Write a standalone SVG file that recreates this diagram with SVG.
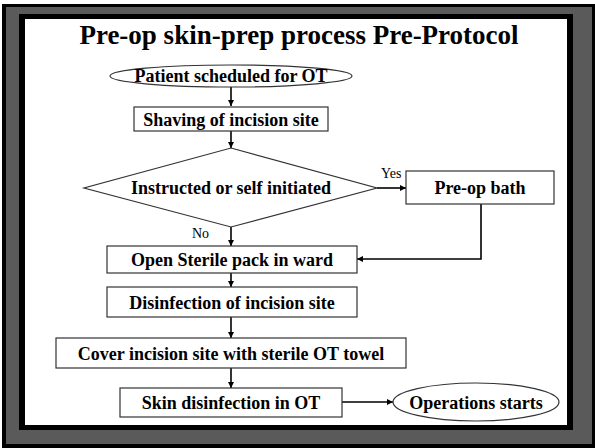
<svg xmlns="http://www.w3.org/2000/svg" width="595" height="448" viewBox="0 0 595 448">
<style>
.box{fill:#fff;stroke:#333;stroke-width:1.2}
.t{font-weight:bold;font-size:18px;fill:#000;text-anchor:middle}
.lbl{font-size:14px;fill:#000}
.c{fill:none;stroke:#000;stroke-width:1.6}
</style>
<defs>
<marker id="ah" viewBox="0 0 10 10" refX="10" refY="5" markerWidth="7" markerHeight="6" markerUnits="userSpaceOnUse" orient="auto">
<path d="M0,0 L10,5 L0,10 z" fill="#000"/>
</marker>
</defs>
<rect x="2" y="4" width="593" height="444" fill="#000"/>
<rect x="6" y="7" width="586" height="437" fill="#5a5a5a"/>
<rect x="19" y="14" width="554" height="416" fill="#000"/>
<rect x="25" y="19" width="542" height="406" fill="#fff"/>
<g font-family="'Liberation Serif', 'Times New Roman', serif">
<text x="299" y="44" font-weight="bold" font-size="27" text-anchor="middle">Pre-op skin-prep process Pre-Protocol</text>
<g id="connectors">
<line class="c" x1="231" y1="87" x2="231" y2="106" marker-end="url(#ah)"/>
<line class="c" x1="231" y1="131" x2="231" y2="148" marker-end="url(#ah)"/>
<line class="c" x1="377" y1="188" x2="406" y2="188" marker-end="url(#ah)"/>
<polyline class="c" points="481,204 481,259 357,259" marker-end="url(#ah)"/>
<line class="c" x1="231" y1="227" x2="231" y2="246" marker-end="url(#ah)"/>
<line class="c" x1="231" y1="273" x2="231" y2="287" marker-end="url(#ah)"/>
<line class="c" x1="231" y1="317" x2="231" y2="338" marker-end="url(#ah)"/>
<line class="c" x1="231" y1="368" x2="231" y2="388" marker-end="url(#ah)"/>
<line class="c" x1="342" y1="402" x2="393" y2="402" marker-end="url(#ah)"/>
<text class="lbl" x="381" y="178">Yes</text>
<text class="lbl" x="192" y="238">No</text>
</g>
<g id="start">
<ellipse class="box" cx="231" cy="76" rx="121" ry="11"/>
<text class="t" x="231" y="82">Patient scheduled for OT</text>
</g>
<g id="shave">
<rect class="box" x="134" y="107" width="194" height="24"/>
<text class="t" x="231" y="126">Shaving of incision site</text>
</g>
<g id="decision">
<polygon class="box" points="231,148 377,188 231,227 84,188"/>
<text class="t" x="231" y="194">Instructed or self initiated</text>
</g>
<g id="bath">
<rect class="box" x="406" y="171" width="148" height="33"/>
<text class="t" x="480" y="194">Pre-op bath</text>
</g>
<g id="open">
<rect class="box" x="107" y="246" width="250" height="27"/>
<text class="t" x="232" y="266">Open Sterile pack in ward</text>
</g>
<g id="disinfect">
<rect class="box" x="107" y="287" width="250" height="30"/>
<text class="t" x="232" y="309">Disinfection of incision site</text>
</g>
<g id="cover">
<rect class="box" x="56" y="338" width="350" height="30"/>
<text class="t" x="231" y="360">Cover incision site with sterile OT towel</text>
</g>
<g id="skin">
<rect class="box" x="120" y="388" width="222" height="29"/>
<text class="t" x="231" y="409">Skin disinfection in OT</text>
</g>
<g id="end">
<ellipse class="box" cx="476" cy="402" rx="83" ry="19"/>
<text class="t" x="476" y="409">Operations starts</text>
</g>
</g>
</svg>
